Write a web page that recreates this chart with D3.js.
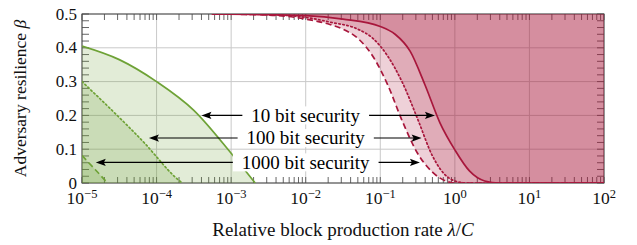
<!DOCTYPE html>
<html lang="en">
<head>
<meta charset="UTF-8">
<title>Adversary resilience</title>
<script src="https://d3js.org/d3.v7.min.js"></script>
<style>
  body { margin: 0; background: #fff; }
  svg { display: block; font-family: "Liberation Serif", "Times New Roman", serif; }
</style>
</head>
<body>
<script>
// ---- data ----
const xTickExp = [-5, -4, -3, -2, -1, 0, 1, 2];
const yTicks = [0, 0.1, 0.2, 0.3, 0.4, 0.5];

// green family (left), [lambda/C, beta]
const green10 = [[1e-5, 0.405], [3.16e-5, 0.365], [1e-4, 0.300], [3.16e-4, 0.215], [1e-3, 0.088], [2.1e-3, 0]];
const green100 = [[1e-5, 0.300], [2.47e-5, 0.217], [6.9e-5, 0.118], [1.75e-4, 0.019], [2.2e-4, 0]];
const green1000 = [[1e-5, 0.081], [1.5e-5, 0.040], [2.2e-5, 0]];

// red family (right)
const red10 = [[5.6e-4, 0.5], [1e-2, 0.495], [0.0316, 0.485], [0.1, 0.463], [0.158, 0.44], [0.251, 0.39],
               [0.398, 0.29], [0.631, 0.178], [1.0, 0.098], [1.58, 0.035], [2.51, 0.006], [3.98, 0], [100, 0]];
const red100 = [[5.6e-4, 0.5], [0.0032, 0.498], [0.01, 0.490], [0.0211, 0.476], [0.05, 0.455], [0.0794, 0.428],
                [0.126, 0.375], [0.2, 0.295], [0.316, 0.19], [0.501, 0.08], [0.794, 0.018],
                [1.26, 0.001], [1.58, 0], [100, 0]];
const red1000 = [[5.6e-4, 0.5], [0.0032, 0.497], [0.01, 0.485], [0.0211, 0.469], [0.0316, 0.455], [0.05, 0.428],
                 [0.0794, 0.375], [0.126, 0.29], [0.2, 0.18], [0.316, 0.088], [0.501, 0.032],
                 [0.794, 0.004], [1.0, 0], [100, 0]];

// annotations
const secLabels = ["10 bit security", "100 bit security", "1000 bit security"];
const secBeta = [0.2, 0.133, 0.061];
const secLeftTip = [4.0e-4, 7.9e-5, 1.53e-5];
const secRightTip = [0.54, 0.358, 0.34];
const secCenter = 1e-2;

// ---- layout ----
const W = 637, H = 245;
const green = "#6ea236", red = "#a8173c";

const svg = d3.select("body").append("svg").attr("width", W).attr("height", H);

const x = d3.scaleLog().domain([1e-5, 1e2]).range([82, 604]);
const y = d3.scaleLinear().domain([0, 0.5]).range([183, 14]);
const [x0, x1] = x.range(), [y0, y1] = y.range();

svg.append("clipPath").attr("id", "plot")
  .append("rect").attr("x", x0).attr("y", y1).attr("width", x1 - x0).attr("height", y0 - y1);

// grid
const grid = svg.append("g").attr("stroke", "#c9c9c9").attr("stroke-width", 1);
xTickExp.forEach(e => grid.append("line")
  .attr("x1", x(10 ** e)).attr("x2", x(10 ** e)).attr("y1", y0).attr("y2", y1));
yTicks.forEach(v => grid.append("line")
  .attr("x1", x0).attr("x2", x1).attr("y1", y(v)).attr("y2", y(v)));

// ticks (inside, all four sides)
const ticks = svg.append("g").attr("stroke", "#555").attr("stroke-width", 0.9);
const xMinor = [];
xTickExp.slice(0, -1).forEach(e => { for (let m = 1; m < 10; m++) xMinor.push(m * 10 ** e); });
xMinor.push(1e2);
xMinor.forEach(v => {
  const px = x(v);
  ticks.append("line").attr("x1", px).attr("x2", px).attr("y1", y0).attr("y2", y0 - 6);
  ticks.append("line").attr("x1", px).attr("x2", px).attr("y1", y1).attr("y2", y1 + 6);
});
d3.range(0, 0.5001, 0.02).forEach(v => {
  const py = y(v);
  ticks.append("line").attr("x1", x0).attr("x2", x0 + 7).attr("y1", py).attr("y2", py);
  ticks.append("line").attr("x1", x1).attr("x2", x1 - 7).attr("y1", py).attr("y2", py);
});

// frame
svg.append("rect").attr("x", x0).attr("y", y1).attr("width", x1 - x0).attr("height", y0 - y1)
  .attr("fill", "none").attr("stroke", "#444").attr("stroke-width", 1);

// curves
const plot = svg.append("g").attr("clip-path", "url(#plot)");
const line = d3.line().x(d => x(d[0])).y(d => y(d[1])).curve(d3.curveMonotoneX);
const areaLow = d3.area().x(d => x(d[0])).y0(y(0)).y1(d => y(d[1])).curve(d3.curveMonotoneX);
const areaHigh = d3.area().x(d => x(d[0])).y0(y(0.5)).y1(d => y(d[1])).curve(d3.curveMonotoneX);

const series = [
  { data: green10, color: green, area: areaLow, dash: null },
  { data: green100, color: green, area: areaLow, dash: "1.5,2.6" },
  { data: green1000, color: green, area: areaLow, dash: "6,3.5" },
  { data: red10, color: red, area: areaHigh, dash: null },
  { data: red100, color: red, area: areaHigh, dash: "1.5,2.6" },
  { data: red1000, color: red, area: areaHigh, dash: "6,3.5" }
];

series.forEach(s => plot.append("path").attr("d", s.area(s.data))
  .attr("fill", s.color).attr("fill-opacity", 0.2));
series.forEach(s => plot.append("path").attr("d", line(s.data))
  .attr("fill", "none").attr("stroke", s.color).attr("stroke-width", 1.7)
  .attr("stroke-linecap", s.dash && s.dash.startsWith("1.5") ? "round" : "butt")
  .attr("stroke-dasharray", s.dash));

// annotations: arrows + boxed labels
const ann = svg.append("g");
secLabels.forEach((t, i) => {
  const py = y(secBeta[i]);
  const xl = x(secLeftTip[i]), xr = x(secRightTip[i]);
  ann.append("line").attr("x1", xl + 6).attr("x2", xr - 6).attr("y1", py).attr("y2", py)
    .attr("stroke", "#000").attr("stroke-width", 1.1);
  ann.append("path").attr("d", `M${xl},${py}L${xl + 10},${py - 3.6}L${xl + 8},${py}L${xl + 10},${py + 3.6}Z`);
  ann.append("path").attr("d", `M${xr},${py}L${xr - 10},${py - 3.6}L${xr - 8},${py}L${xr - 10},${py + 3.6}Z`);
  const box = ann.append("rect").attr("fill", "#fff");
  const txt = ann.append("text").attr("x", x(secCenter)).attr("y", py).attr("dy", "0.33em")
    .attr("text-anchor", "middle").attr("font-size", 19).text(t);
  const w = txt.node().getComputedTextLength();
  box.attr("x", x(secCenter) - w / 2 - 9).attr("width", w + 18)
    .attr("y", py - 9).attr("height", 18);
});

// tick labels
const lab = svg.append("g").attr("fill", "#111");
yTicks.forEach(v => lab.append("text").attr("x", 77).attr("y", y(v)).attr("dy", "0.33em")
  .attr("text-anchor", "end").attr("font-size", 17).text(v === 0 ? "0" : v.toFixed(1)));
xTickExp.forEach(e => {
  const t = lab.append("text").attr("x", x(10 ** e)).attr("y", 204)
    .attr("text-anchor", "middle").attr("font-size", 17.5);
  t.append("tspan").text("10");
  t.append("tspan").attr("font-size", 12.5).attr("dy", -6).text(e < 0 ? "\u2212" + (-e) : String(e));
});

// axis titles
const xt = lab.append("text").attr("x", (x0 + x1) / 2).attr("y", 236)
  .attr("text-anchor", "middle").attr("font-size", 19);
xt.append("tspan").text("Relative block production rate ");
xt.append("tspan").attr("font-style", "italic").text("\u03bb");
xt.append("tspan").text("/");
xt.append("tspan").attr("font-style", "italic").text("C");

const yt = lab.append("text").attr("transform", `translate(26,${(y0 + y1) / 2}) rotate(-90)`)
  .attr("text-anchor", "middle").attr("font-size", 17.5);
yt.append("tspan").text("Adversary resilience ");
yt.append("tspan").attr("font-style", "italic").text("\u03b2");
</script>
</body>
</html>
